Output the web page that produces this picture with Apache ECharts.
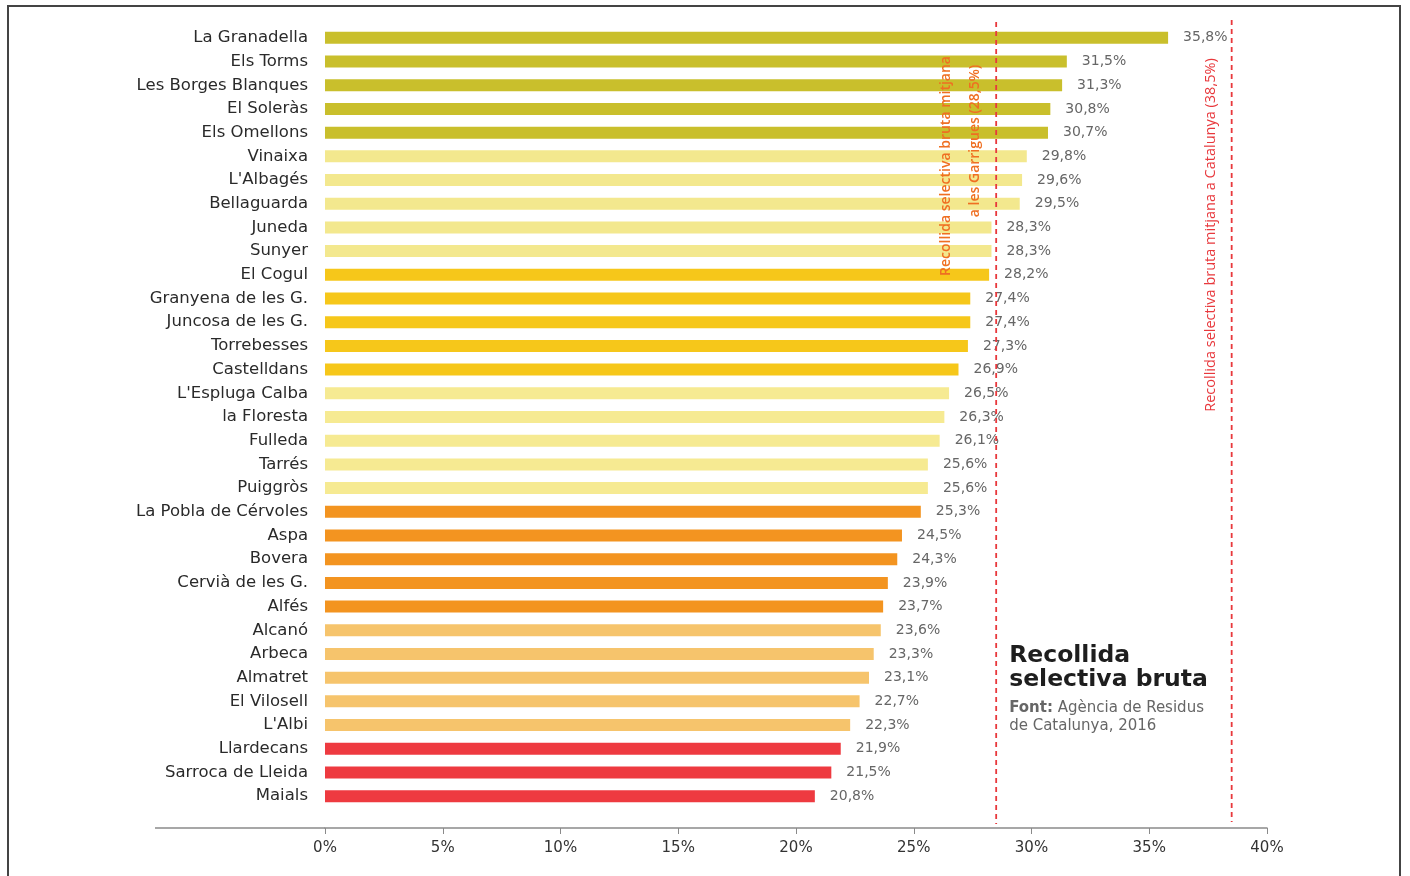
<!DOCTYPE html>
<html>
<head>
<meta charset="utf-8">
<script src="https://cdn.jsdelivr.net/npm/echarts@6/dist/echarts.min.js"></script>
<style>
  html, body { margin: 0; padding: 0; background: #fff; }
  #frame { position: absolute; left: 7px; top: 5px; width: 1394px; height: 900px; border: 2px solid #444; box-sizing: border-box; }
  #chart { position: absolute; left: 0; top: 0; width: 1410px; height: 876px; }
</style>
</head>
<body>
<div id="frame"></div>
<div id="chart"></div>
<script>
const municipalities = [
  "La Granadella", "Els Torms", "Les Borges Blanques", "El Soleràs", "Els Omellons",
  "Vinaixa", "L'Albagés", "Bellaguarda", "Juneda", "Sunyer",
  "El Cogul", "Granyena de les G.", "Juncosa de les G.", "Torrebesses", "Castelldans",
  "L'Espluga Calba", "la Floresta", "Fulleda", "Tarrés", "Puiggròs",
  "La Pobla de Cérvoles", "Aspa", "Bovera", "Cervià de les G.", "Alfés",
  "Alcanó", "Arbeca", "Almatret", "El Vilosell", "L'Albi",
  "Llardecans", "Sarroca de Lleida", "Maials"
];
const rates = [
  35.8, 31.5, 31.3, 30.8, 30.7,
  29.8, 29.6, 29.5, 28.3, 28.3,
  28.2, 27.4, 27.4, 27.3, 26.9,
  26.5, 26.3, 26.1, 25.6, 25.6,
  25.3, 24.5, 24.3, 23.9, 23.7,
  23.6, 23.3, 23.1, 22.7, 22.3,
  21.9, 21.5, 20.8
];
const groups = [
  0, 0, 0, 0, 0,
  1, 1, 1, 1, 1,
  2, 2, 2, 2, 2,
  3, 3, 3, 3, 3,
  4, 4, 4, 4, 4,
  5, 5, 5, 5, 5,
  6, 6, 6
];
const xTicks = [0, 5, 10, 15, 20, 25, 30, 35, 40];
const garriguesAvg = 28.5;
const cataloniaAvg = 38.5;

const palette = ["#c9bf2c", "#f3e88e", "#f6c71a", "#f6ea92", "#f39420", "#f6c46c", "#ee3a40"];
const fmt = v => v.toFixed(1).replace('.', ',') + '%';
const SANS = '"DejaVu Sans"';

const chart = echarts.init(document.getElementById('chart'));
chart.setOption({
  animation: false,
  backgroundColor: 'transparent',
  textStyle: { fontFamily: 'DejaVu Sans' },
  grid: { left: 325, right: 143, top: 26, bottom: 68, containLabel: false },
  xAxis: {
    type: 'value',
    min: xTicks[0], max: xTicks[xTicks.length - 1], interval: 5,
    offset: 20,
    axisLine: { show: true, lineStyle: { color: '#8a8a8a', width: 1.5 } },
    axisTick: { show: true, inside: false, length: 6, lineStyle: { color: '#8a8a8a' } },
    splitLine: { show: false },
    axisLabel: { color: '#333', fontSize: 15, margin: 13, formatter: v => v + '%' }
  },
  yAxis: {
    type: 'category',
    inverse: true,
    data: municipalities,
    axisLine: { show: false },
    axisTick: { show: false },
    axisLabel: { color: '#2a2a2a', fontSize: 16.5, margin: 17 }
  },
  series: [{
    type: 'bar',
    barWidth: 12,
    data: rates.map((v, i) => ({ value: v, itemStyle: { color: palette[groups[i]] } })),
    label: {
      show: true, position: 'right', distance: 15,
      color: '#666', fontSize: 14,
      formatter: p => fmt(p.value)
    }
  }]
});

// reference lines and annotations positioned through the chart's own scales
const x0 = chart.convertToPixel({ gridIndex: 0 }, [0, 0])[0];
const xG = chart.convertToPixel({ gridIndex: 0 }, [garriguesAvg, 0])[0];
const xC = chart.convertToPixel({ gridIndex: 0 }, [cataloniaAvg, 0])[0];
const axisY = 828;
const lineStyle = { stroke: '#e8383c', lineWidth: 1.8, lineDash: [5, 4] };

chart.setOption({
  graphic: [
    { type: 'line', z: 50, silent: true, shape: { x1: 155, y1: axisY, x2: x0, y2: axisY }, style: { stroke: '#8a8a8a', lineWidth: 1.5 } },
    { type: 'line', z: 50, silent: true, shape: { x1: xG, y1: 22, x2: xG, y2: axisY - 4 }, style: lineStyle },
    { type: 'line', z: 50, silent: true, shape: { x1: xC, y1: 20, x2: xC, y2: axisY - 6 }, style: lineStyle },
    { type: 'text', z: 100, x: xG - 50, y: 166, rotation: Math.PI / 2,
      style: { text: 'Recollida selectiva bruta mitjana', fill: '#ef6f22', font: '600 14px "Open Sans"', align: 'center', verticalAlign: 'middle' } },
    { type: 'text', z: 100, x: xG - 21, y: 141, rotation: Math.PI / 2,
      style: { text: 'a les Garrigues (28,5%)', fill: '#ef6f22', font: '600 14px "Open Sans"', align: 'center', verticalAlign: 'middle' } },
    { type: 'text', z: 100, x: xC - 21, y: 235, rotation: Math.PI / 2,
      style: { text: 'Recollida selectiva bruta mitjana a Catalunya (38,5%)', fill: '#e8383c', font: '14.5px "Open Sans"', align: 'center', verticalAlign: 'middle' } },
    { type: 'text', z: 100, x: xG + 13, y: 644,
      style: { text: 'Recollida\nselectiva bruta', fill: '#1e1e1e', font: 'bold 23.5px ' + SANS, lineHeight: 24 } },
    { type: 'text', z: 100, x: xG + 13, y: 699,
      style: { text: '{b|Font:} Agència de Residus\nde Catalunya, 2016', fill: '#666', font: '15px ' + SANS, lineHeight: 18,
        rich: { b: { fill: '#666', font: 'bold 15px ' + SANS } } } }
  ]
});
</script>
</body>
</html>
